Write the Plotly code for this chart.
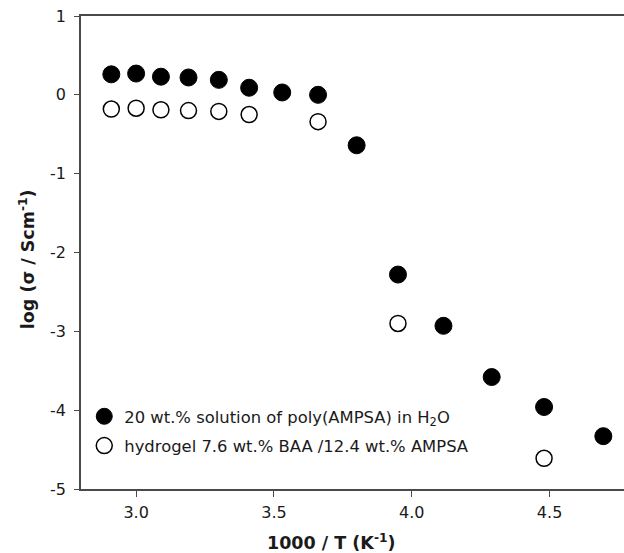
import plotly.graph_objects as go

# Data
x_solution = [2.91, 3.00, 3.09, 3.19, 3.30, 3.41, 3.53, 3.66, 3.80, 3.95, 4.115, 4.29, 4.48, 4.695]
y_solution = [0.26, 0.27, 0.23, 0.22, 0.19, 0.09, 0.03, 0.00, -0.64, -2.28, -2.93, -3.58, -3.96, -4.33]

x_gel = [2.91, 3.00, 3.09, 3.19, 3.30, 3.41, 3.66, 3.95, 4.48]
y_gel = [-0.18, -0.17, -0.19, -0.20, -0.21, -0.25, -0.34, -2.90, -4.61]

name_solution = "20 wt.% solution of poly(AMPSA) in H<sub>2</sub>O"
name_gel = "hydrogel 7.6 wt.% BAA /12.4 wt.% AMPSA"

x_title = "<b>1000 / T (K<sup>-1</sup>)</b>"
y_title = "<b>log (σ / Scm<sup>-1</sup>)</b>"

x_ticks = [3.0, 3.5, 4.0, 4.5]
x_ticklabels = ["3.0", "3.5", "4.0", "4.5"]
y_ticks = [1, 0, -1, -2, -3, -4, -5]
y_ticklabels = ["1", "0", "-1", "-2", "-3", "-4", "-5"]

FONT = "DejaVu Sans, Liberation Sans, sans-serif"
AXC = "#4a4a4a"
TXT = "#1a1a1a"

fig = go.Figure()
fig.add_trace(go.Scatter(
    x=x_solution, y=y_solution, mode="markers", name=name_solution,
    legendgroup="a",
    marker=dict(symbol="circle", size=17, color="black", line=dict(color="black", width=1)),
))
fig.add_trace(go.Scatter(
    x=x_gel, y=y_gel, mode="markers", name=name_gel,
    legendgroup="b",
    marker=dict(symbol="circle", size=16, color="white", line=dict(color="black", width=1.5)),
))

fig.update_layout(
    width=624, height=553,
    margin=dict(l=81, r=0, t=16, b=64),
    paper_bgcolor="white", plot_bgcolor="white",
    font=dict(family=FONT, size=16, color=TXT),
    showlegend=True,
    legend=dict(
        x=0.006, y=0.19, xanchor="left", yanchor="top",
        bgcolor="rgba(0,0,0,0)", borderwidth=0,
        font=dict(family=FONT, size=16.4, color=TXT),
        traceorder="grouped", tracegroupgap=5,
    ),
    xaxis=dict(
        range=[2.8, 4.77], tickvals=x_ticks, ticktext=x_ticklabels,
        showgrid=False, zeroline=False,
        showline=True, linecolor=AXC, linewidth=1.5, mirror=True,
        ticks="outside", ticklen=6, tickcolor=AXC, tickwidth=1.2,
        ticklabelstandoff=2,
        tickfont=dict(family=FONT, size=16, color=TXT),
    ),
    yaxis=dict(
        range=[-5, 1], tickvals=y_ticks, ticktext=y_ticklabels,
        showgrid=False, zeroline=False,
        showline=True, linecolor=AXC, linewidth=1.5, mirror=False,
        ticks="outside", ticklen=5, tickcolor=AXC, tickwidth=1.2,
        ticklabelstandoff=5,
        tickfont=dict(family=FONT, size=16, color=TXT),
    ),
    annotations=[
        dict(text=x_title, xref="paper", yref="paper", x=0.4604, y=-0.112,
             xanchor="center", yanchor="middle", showarrow=False,
             font=dict(family=FONT, size=17.5, color=TXT)),
        dict(text=y_title, xref="paper", yref="paper", x=-0.0994, y=0.486,
             xanchor="center", yanchor="middle", showarrow=False, textangle=-90,
             font=dict(family=FONT, size=17.5, color=TXT)),
    ],
)

fig.write_html(
    "out.html",
    config={"displayModeBar": False},
    post_script="document.body.style.margin='0';document.body.style.overflow='hidden';",
)
